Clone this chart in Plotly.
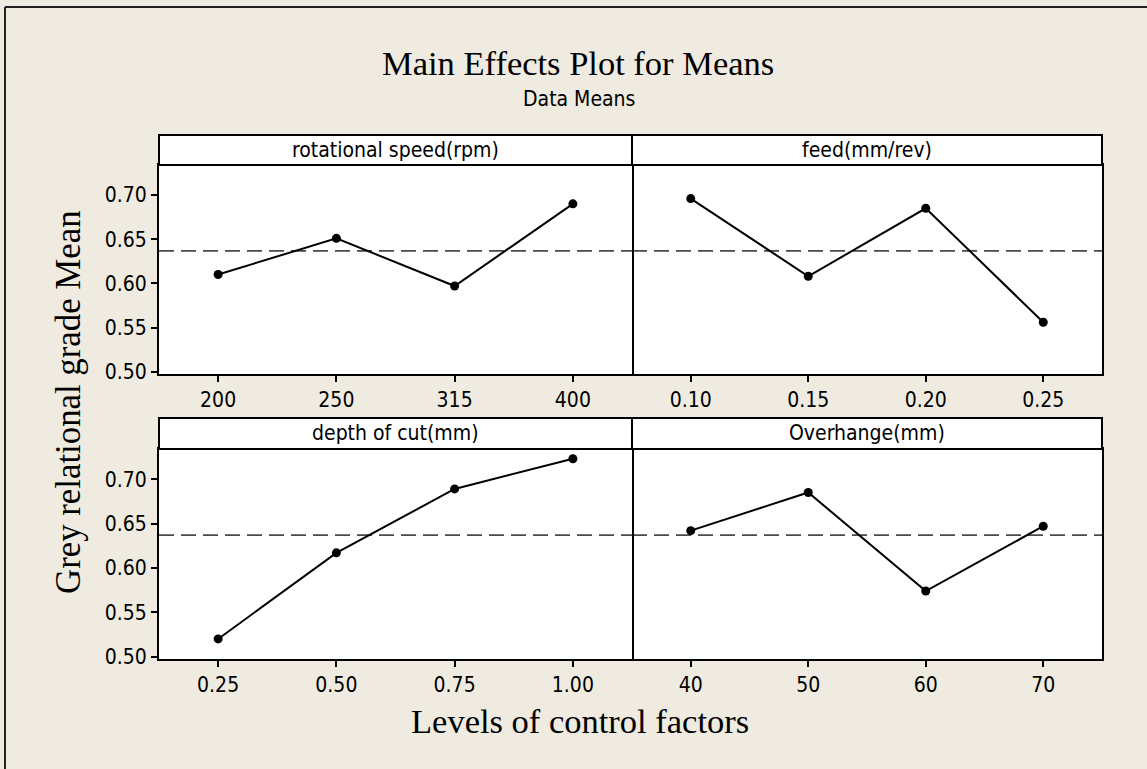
import numpy as np
import plotly.graph_objects as go

# ---- data ----
factors = ["rotational speed(rpm)", "feed(mm/rev)", "depth of cut(mm)", "Overhange(mm)"]
rot_levels = ["200", "250", "315", "400"]
feed_levels = ["0.10", "0.15", "0.20", "0.25"]
doc_levels = ["0.25", "0.50", "0.75", "1.00"]
ovh_levels = ["40", "50", "60", "70"]
rot_means = [0.610, 0.651, 0.597, 0.690]
feed_means = [0.696, 0.608, 0.685, 0.556]
doc_means = [0.520, 0.617, 0.689, 0.723]
ovh_means = [0.642, 0.685, 0.574, 0.647]
y_ticks = [0.50, 0.55, 0.60, 0.65, 0.70]
y_ticktext = ["0.50", "0.55", "0.60", "0.65", "0.70"]

levels = [rot_levels, feed_levels, doc_levels, ovh_levels]
means = [rot_means, feed_means, doc_means, ovh_means]
grand_mean = float(np.mean(np.concatenate([rot_means, feed_means, doc_means, ovh_means])))

W, H = 1147, 769
ML, MR, MT, MB = 159, 45, 135, 110
PW = W - ML - MR
PH = H - MT - MB


def px(x):
    return (x - ML) / PW


def py(y):
    return (H - MB - y) / PH


BG = "#EFEBE1"
SANS = "DejaVu Sans Condensed, DejaVu Sans"
SERIF = "Liberation Serif, Times New Roman, serif"
TICKFONT = dict(family=SANS, size=21, color="black")

xdom = [[0, px(632)], [px(632), 1]]
ydom = [[py(374), py(165)], [0, py(449)]]
header = [[py(165), 1.0], [py(449), py(418)]]

fig = go.Figure()
layout = {}
shapes = []
annotations = []

for i in range(4):
    r, c = divmod(i, 2)
    n = "" if i == 0 else str(i + 1)
    xa, ya = "x" + n, "y" + n
    fig.add_trace(go.Scatter(
        x=levels[i], y=means[i], mode="lines+markers",
        line=dict(color="black", width=2),
        marker=dict(color="black", size=9),
        xaxis=xa, yaxis=ya, showlegend=False, hoverinfo="x+y"))
    layout["xaxis" + n] = dict(
        domain=xdom[c], anchor=ya, type="category", range=[-0.5, 3.5],
        showline=True, linecolor="black", linewidth=2, mirror=True,
        ticks="outside", ticklen=6, tickwidth=1.5, tickcolor="black",
        tickfont=TICKFONT, showgrid=False, zeroline=False, fixedrange=True)
    ycfg = dict(
        domain=ydom[r], anchor=xa, range=[0.4974, 0.734],
        tickvals=y_ticks, ticktext=y_ticktext,
        ticklen=6, tickwidth=1.5, tickcolor="black",
        showline=True, linecolor="black", linewidth=2,
        tickfont=TICKFONT, showgrid=False, zeroline=False, fixedrange=True)
    if c == 0:
        ycfg.update(mirror=True, ticks="outside", showticklabels=True)
    else:
        ycfg.update(side="right", mirror=False, ticks="", showticklabels=False)
    layout["yaxis" + n] = ycfg
    # grand mean reference line
    shapes.append(dict(type="line", xref=xa + " domain", yref=ya,
                       x0=0, x1=1, y0=grand_mean, y1=grand_mean,
                       line=dict(color="#4a4a4a", width=1.8, dash="15px,7px"), layer="below"))
    # header strip
    shapes.append(dict(type="rect", xref="paper", yref="paper",
                       x0=xdom[c][0], x1=xdom[c][1], y0=header[r][0], y1=header[r][1],
                       fillcolor="white", line=dict(color="black", width=2)))
    annotations.append(dict(text=factors[i], xref="paper", yref="paper",
                            x=(xdom[c][0] + xdom[c][1]) / 2,
                            y=(header[r][0] + header[r][1]) / 2,
                            showarrow=False, xanchor="center", yanchor="middle",
                            font=dict(family=SANS, size=21, color="black")))

# outer frame (left and top edges visible)
shapes.append(dict(type="line", xref="paper", yref="paper", x0=px(5), x1=px(5), y0=py(7), y1=py(800),
                   line=dict(color="#222222", width=2)))
shapes.append(dict(type="line", xref="paper", yref="paper", x0=px(5), x1=px(1200), y0=py(7), y1=py(7),
                   line=dict(color="#222222", width=2)))

annotations += [
    dict(text="Main Effects Plot for Means", xref="paper", yref="paper", x=px(578), y=py(63),
         showarrow=False, xanchor="center", yanchor="middle",
         font=dict(family=SERIF, size=34.5, color="black")),
    dict(text="Data Means", xref="paper", yref="paper", x=px(579), y=py(99),
         showarrow=False, xanchor="center", yanchor="middle",
         font=dict(family=SANS, size=21, color="black")),
    dict(text="Levels of control factors", xref="paper", yref="paper", x=px(580), y=py(721),
         showarrow=False, xanchor="center", yanchor="middle",
         font=dict(family=SERIF, size=34.5, color="black")),
    dict(text="Grey relational grade Mean", xref="paper", yref="paper", x=px(68), y=py(402),
         showarrow=False, xanchor="center", yanchor="middle", textangle=-90,
         font=dict(family=SERIF, size=34.8, color="black")),
]

fig.update_layout(
    width=W, height=H, margin=dict(l=ML, r=MR, t=MT, b=MB, autoexpand=False),
    paper_bgcolor=BG, plot_bgcolor="white",
    shapes=shapes, annotations=annotations, **layout)

fig.write_html("out.html", config={"displayModeBar": False},
               post_script="document.body.style.margin='0';document.body.style.overflow='hidden';")
